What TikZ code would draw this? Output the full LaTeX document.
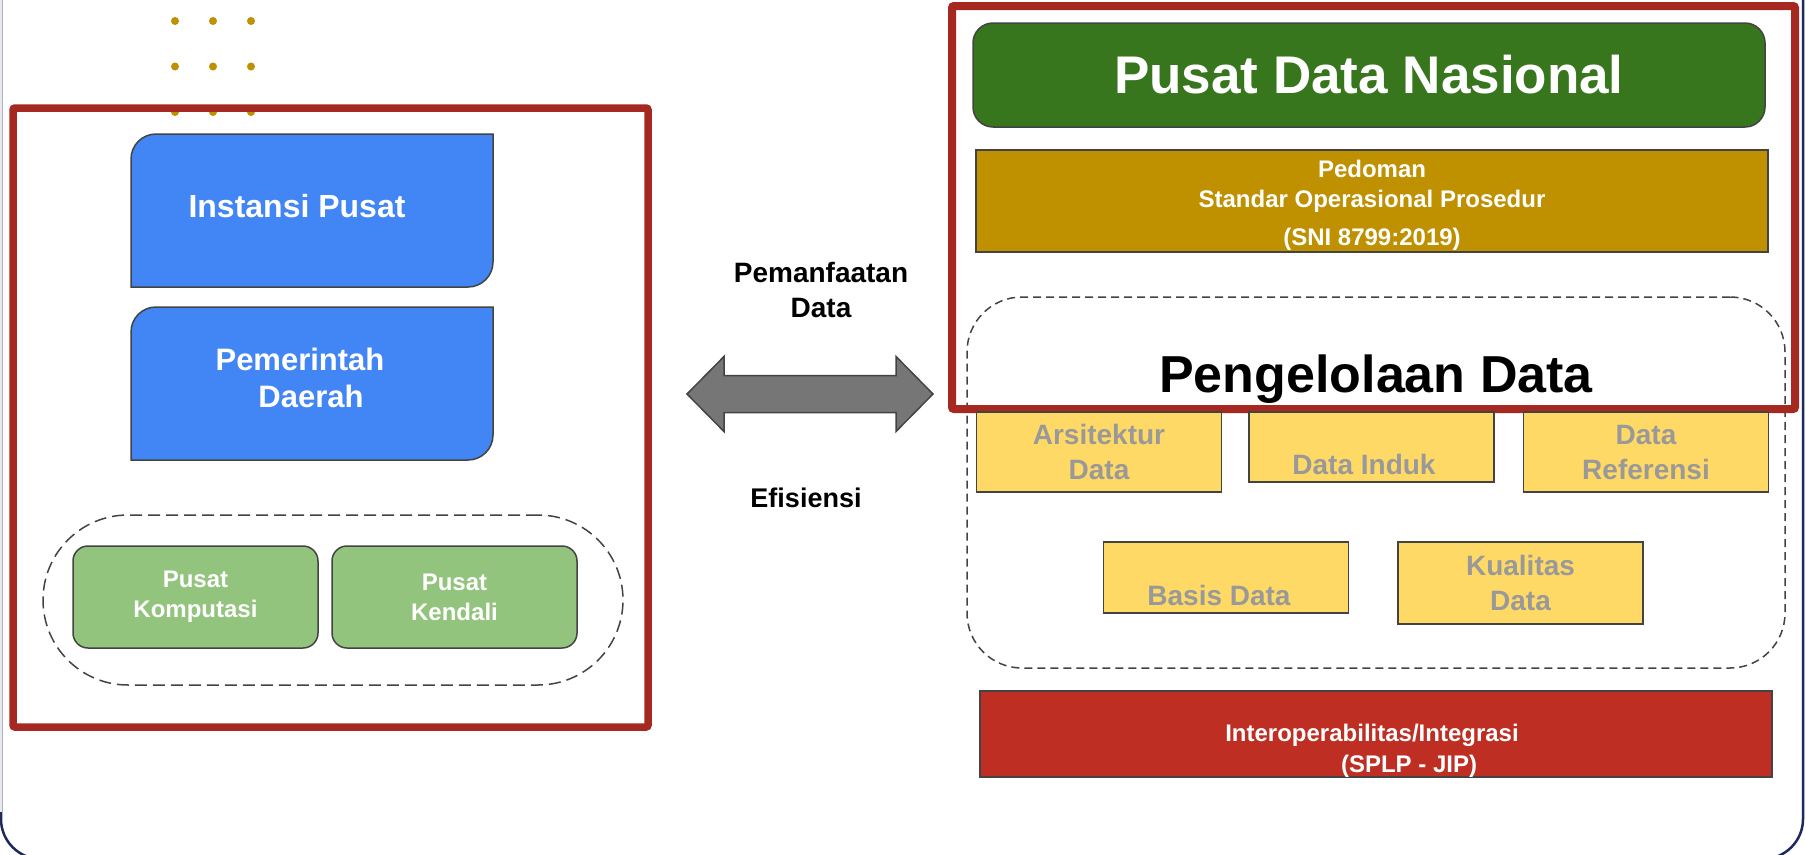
\documentclass[tikz,border=0pt]{standalone}
\usepackage{fontspec}
\setmainfont{Liberation Sans}
\usepackage{tikz}
\usetikzlibrary{calc}
\usetikzlibrary{backgrounds}
\definecolor{frameRed}{HTML}{A62921}
\definecolor{frameNavy}{HTML}{1C2A5E}
\definecolor{edgeGray}{HTML}{E8E8EE}
\definecolor{boxLine}{HTML}{434343}
\definecolor{dotGold}{HTML}{BF9000}
\definecolor{instBlue}{HTML}{4285F4}
\definecolor{hubGreen}{HTML}{93C47D}
\definecolor{pdnGreen}{HTML}{38761D}
\definecolor{sopGold}{HTML}{BF9000}
\definecolor{mgmtYellow}{HTML}{FFD966}
\definecolor{mgmtText}{HTML}{999999}
\definecolor{interRed}{HTML}{BE2E22}
\definecolor{arrowGray}{HTML}{767676}
\tikzstyle{panel} = [draw=frameRed, line width=7.5pt, rounded corners=2pt]
\tikzstyle{box} = [draw=boxLine, line width=1.5pt, inner sep=0pt, outer sep=0pt, align=center, text=white, font=\bfseries]
\tikzstyle{boxtext} = [text=white, font=\bfseries, align=center, inner sep=0pt]
\tikzstyle{bricktext} = [boxtext, text=mgmtText, font=\bfseries\fontsize{28}{35}\selectfont]
\tikzstyle{slot} = [inner sep=0pt, outer sep=0pt, minimum width=362pt, minimum height=153pt]
\tikzstyle{bluetab} = [draw=boxLine, line width=1.5pt, fill=instBlue]
\tikzstyle{hub} = [box, fill=hubGreen, rounded corners=15pt, minimum width=245pt, minimum height=102pt, font=\bfseries\fontsize{24}{30}\selectfont]
\tikzstyle{brick} = [box, fill=mgmtYellow, text=mgmtText, minimum width=245pt, font=\bfseries\fontsize{28}{35}\selectfont]
\tikzstyle{fence} = [draw=boxLine, line width=1.5pt, inner sep=0pt, outer sep=0pt, dash pattern=on 12pt off 6pt]
\tikzstyle{midtext} = [font=\bfseries\fontsize{28}{35}\selectfont, align=center]
\tikzstyle{bigarrow} = [draw=boxLine, line width=1.5pt, fill=arrowGray, line join=miter]

\begin{document}
\begin{tikzpicture}[x=1pt, y=-1pt]
	\useasboundingbox (0,0) rectangle (1806,854);
	
	% outer frame
	\begin{scope}
		\clip (0,0) rectangle (1806,854);
		\draw[frameNavy, line width=2.5pt, rounded corners=40pt] (1,-60) rectangle (1803,859);
		\draw[edgeGray, line width=2.5pt] (1,-5) -- (1,812);
	\end{scope}
	
	\foreach \i in {0, 1, 2}
	{
		\foreach \j in {0, 1, 2}
		{
			\fill[dotGold] ({175+38*\i}, {21+45.5*\j}) circle (4pt);
		}
	}
	
	% left side
	\draw[panel] (13,108) rectangle (648,727);
	
	\node[slot, label={[boxtext, font=\bfseries\fontsize{32}{37}\selectfont, xshift=-15pt, yshift=4pt]center:Instansi Pusat}] (instansi) at (312,210.5) {};
	\node[slot, label={[boxtext, font=\bfseries\fontsize{31}{37}\selectfont, xshift=-12pt, yshift=6pt]center:{Pemerintah\\\hspace*{22pt}Daerah}}] (pemda) at (312,383.5) {};
	
	\begin{scope}[on background layer]
		\foreach \b in {instansi, pemda}
		{
			\draw[bluetab] (\b.south west) -- ([yshift=-25pt]\b.north west) arc[start angle=180, end angle=90, radius=25pt] -- (\b.north east) -- ([yshift=25pt]\b.south east) arc[start angle=0, end angle=-90, radius=25pt] -- cycle;
		}
	\end{scope}
	
	\node[fence, rounded corners=85pt, minimum width=580pt, minimum height=170pt] (hubs) at (333,600) {};
	\node[hub] (komputasi) at (195.5,597) {Pusat\\Komputasi};
	\node[hub] (kendali) at (454.5,597) {Pusat\\Kendali};
	
	% middle
	\node[midtext] (pemanfaatan) at (821,290) {Pemanfaatan\\Data};
	\node[midtext, font=\bfseries\fontsize{27}{33}\selectfont] (efisiensi) at (806,497.5) {Efisiensi};
	
	\coordinate (useL) at (687,394);
	\coordinate (useR) at (933,394);
	\draw[bigarrow] (useL) -- ++(37,-37.5) -- ++(0,19) -- ($(useR)+(-37,-18.5)$) -- ++(0,-19) -- (useR) -- ++(-37,37.5) -- ++(0,-19) -- ($(useL)+(37,18.5)$) -- ++(0,19) -- cycle;
	
	% right side
	\node[fence, dash pattern=on 8pt off 5pt, rounded corners=55pt, minimum width=818pt, minimum height=371pt] (mgmt) at (1376,482.5) {};
	\draw[panel, line width=8pt] (952,6) rectangle (1795,409);
	
	\node[box, fill=pdnGreen, rounded corners=20pt, minimum width=792pt, minimum height=104pt, font=\bfseries\fontsize{53}{60}\selectfont] (pdn) at (1369,75) {Pusat Data Nasional};
	\node[box, fill=sopGold, minimum width=792pt, minimum height=102pt, label={[boxtext, font=\bfseries\fontsize{24}{30}\selectfont, yshift=-4pt]center:{Pedoman\\Standar Operasional Prosedur\\[8pt](SNI 8799:2019)}}] (sop) at (1372,201) {};
	
	\node[font=\bfseries\fontsize{52}{60}\selectfont, inner sep=0pt] (mgmttitle) at (1376,379) {Pengelolaan Data};
	
	\node[brick, minimum height=80pt] (arsitektur) at (1099,452) {Arsitektur\\Data};
	\node[brick, minimum height=70pt, label={[bricktext, xshift=-7.5pt, yshift=-17pt]center:Data Induk}] (induk) at (1371.5,447) {};
	\node[brick, minimum height=80pt] (referensi) at (1646,452) {Data\\Referensi};
	\node[brick, minimum height=71pt, label={[bricktext, xshift=-7pt, yshift=-17.5pt]center:Basis Data}] (basis) at (1226,577.5) {};
	\node[brick, minimum height=82pt] (kualitas) at (1520.5,583) {Kualitas\\Data};
	
	\node[box, fill=interRed, minimum width=792pt, minimum height=86pt, label={[boxtext, font=\bfseries\fontsize{24}{31}\selectfont, xshift=-4pt, yshift=-17pt]center:{Interoperabilitas/Integrasi\\\hspace*{74pt}(SPLP - JIP)}}] (interop) at (1376,734) {};
\end{tikzpicture}
\end{document}
